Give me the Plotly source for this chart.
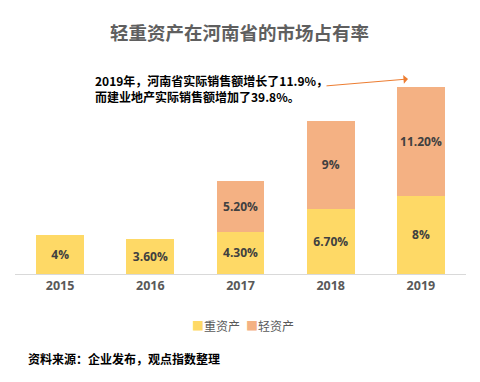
import plotly.graph_objects as go

years = ["2015", "2016", "2017", "2018", "2019"]
heavy = [4.0, 3.6, 4.3, 6.7, 8.0]
light = [None, None, 5.2, 9.0, 11.2]
heavy_labels = ["<b>4%</b>", "<b>3.60%</b>", "<b>4.30%</b>", "<b>6.70%</b>", "<b>8%</b>"]
light_labels = ["", "", "<b>5.20%</b>", "<b>9%</b>", "<b>11.20%</b>"]
series_names = ["重资产", "轻资产"]

HEAVY_C = "#FED966"
LIGHT_C = "#F4B183"
LABEL_FONT = dict(family="Open Sans, Noto Sans CJK SC, sans-serif", size=12.5, color="#404040")

fig = go.Figure()
fig.add_trace(go.Bar(x=years, y=heavy, name=series_names[0], marker=dict(color=HEAVY_C, line=dict(width=0)),
                     text=heavy_labels, textposition="inside", insidetextanchor="middle", textangle=0,
                     textfont=LABEL_FONT, cliponaxis=False, showlegend=False))
fig.add_trace(go.Bar(x=years, y=light, name=series_names[1], marker=dict(color=LIGHT_C, line=dict(width=0)),
                     text=light_labels, textposition="inside", insidetextanchor="middle", textangle=0,
                     textfont=LABEL_FONT, cliponaxis=False, showlegend=False))

fig.update_layout(
    barmode="stack",
    bargap=0.47,
    width=480, height=382,
    margin=dict(l=15, r=14, t=80, b=108),
    plot_bgcolor="white", paper_bgcolor="white",
    showlegend=False,
    uniformtext=dict(minsize=8, mode="show"),
)
fig.update_xaxes(showline=True, linecolor="#D9D9D9", linewidth=1, ticks="",
                 tickprefix="<b>", ticksuffix="</b>",
                 tickfont=dict(family="Open Sans, sans-serif", size=12.5, color="#595959"),
                 showgrid=False)
fig.update_yaxes(range=[0, 19.92], visible=False, showgrid=False)

# title
fig.add_annotation(text="<b>轻重资产在河南省的市场占有率</b>", xref="paper", yref="paper",
                   x=(239-15)/451, xanchor="center", y=1, yshift=274-32-194, yanchor="middle", showarrow=False,
                   font=dict(family="Noto Sans CJK SC, serif", size=18.5, color="#5f5f5f"))
# callout
fig.add_annotation(text="<b>2019年，河南省实际销售额增长了11.9%，<br>而建业地产实际销售额增加了39.8%。</b>",
                   xref="paper", yref="paper", x=(93-15)/451, xanchor="left",
                   y=(274-88)/194, yanchor="middle", showarrow=False, align="left",
                   font=dict(family="Noto Sans CJK SC, sans-serif", size=12, color="#000000"))
fig.add_annotation(xref="paper", yref="paper", axref="pixel", ayref="pixel",
                   x=(408-15)/451, y=(274-79)/194, ax=-83, ay=7,
                   text="", showarrow=True, arrowhead=1, arrowsize=1.5, arrowwidth=1,
                   arrowcolor="#ED7D31")
# legend (manual, compact like the original)
legend_items = [(series_names[0], HEAVY_C, 190), (series_names[1], LIGHT_C, 244)]
for name, col, px in legend_items:
    fig.add_annotation(text=f"<span style='color:{col}'>■</span>{name}", xref="paper", yref="paper",
                       x=(px-15)/451, xanchor="left", y=-(325-274)/194, yanchor="middle",
                       showarrow=False,
                       font=dict(family="Noto Sans CJK SC, sans-serif", size=12, color="#595959"))
# source
fig.add_annotation(text="<b>资料来源：企业发布，观点指数整理</b>", xref="paper", yref="paper",
                   x=(26-15)/451, xanchor="left", y=-(358-274)/194, yanchor="middle", showarrow=False,
                   font=dict(family="Noto Sans CJK SC, sans-serif", size=12, color="#000000"))

fig.write_html("out.html", config={"displayModeBar": False},
               post_script="document.body.style.margin='0px';")
